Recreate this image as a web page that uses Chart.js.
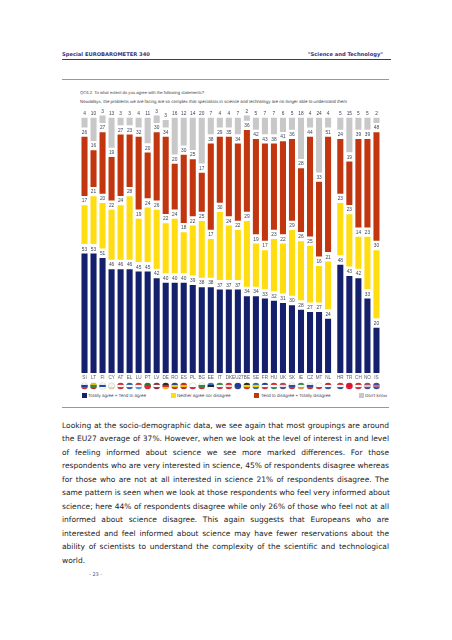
<!DOCTYPE html>
<html>
<head>
<meta charset="utf-8">
<title>Special EUROBAROMETER 340</title>
<script src="https://cdn.jsdelivr.net/npm/chart.js@4"></script>
<style>
  html, body { margin: 0; padding: 0; background: #fff; }
  body { position: relative; width: 452px; height: 640px; overflow: hidden; font-family: "DejaVu Sans", sans-serif; text-rendering: geometricPrecision; }
  .abs { position: absolute; white-space: nowrap; }
  .head { font-size: 5.2px; font-weight: bold; color: #34347c; top: 52px; line-height: 7px; }
  .rule { position: absolute; left: 62px; height: 1px; }
  .q { left: 80px; font-family: "Liberation Sans", sans-serif; font-size: 4.2px; color: #444; line-height: 6px; }
  canvas { position: absolute; top: 108px; }
  .sw { position: absolute; top: 393px; width: 5px; height: 5px; }
  .lg { top: 392px; font-family: "Liberation Sans", sans-serif; font-size: 4.5px; line-height: 7px; color: #445; }
  #body { position: absolute; left: 62px; top: 419px; width: 327px; font-size: 7.5px; line-height: 13.45px; color: #222; }
  #body div { text-align: justify; text-align-last: justify; white-space: nowrap; }
  #body div:last-child { text-align-last: left; }
  .pg { left: 89px; top: 571px; font-size: 5px; line-height: 8px; color: #55558a; }
</style>
</head>
<body>
<div class="abs head" style="left:62px">Special EUROBAROMETER 340</div>
<div class="abs head" style="right:69px">"Science and Technology"</div>
<div class="rule" style="top:59px;width:329px;background:#3a3a6e"></div>
<div class="rule" style="top:79px;width:327px;background:#999"></div>

<div class="abs q" style="top:90px">QC6.2. To what extent do you agree with the following statements?</div>
<div class="abs q" style="top:99px;font-size:4.45px">Nowadays, the problems we are facing are so complex that specialists in science and technology are no longer able to understand them</div>

<canvas id="chartEuropa" style="left:79.5px"></canvas>
<canvas id="chartOtros" style="left:335px"></canvas>

<div class="sw" style="left:82px;background:#14206b"></div>
<div class="abs lg" style="left:88px">Totally agree + Tend to agree</div>
<div class="sw" style="left:171px;background:#ffdd10"></div>
<div class="abs lg" style="left:177px">Neither agree nor disagree</div>
<div class="sw" style="left:254px;background:#c1360e"></div>
<div class="abs lg" style="left:261px">Tend to disagree + Totally disagree</div>
<div class="sw" style="left:359px;background:#c8c8c8"></div>
<div class="abs lg" style="left:365px">Don't know</div>

<div class="rule" style="top:407px;width:327px;background:#999"></div>

<div id="body">
<div>Looking at the socio-demographic data, we see again that most groupings are around</div>
<div>the EU27 average of 37%. However, when we look at the level of interest in and level</div>
<div>of feeling informed about science we see more marked differences. For those</div>
<div>respondents who are very interested in science, 45% of respondents disagree whereas</div>
<div>for those who are not at all interested in science 21% of respondents disagree. The</div>
<div>same pattern is seen when we look at those respondents who feel very informed about</div>
<div>science; here 44% of respondents disagree while only 26% of those who feel not at all</div>
<div>informed about science disagree. This again suggests that Europeans who are</div>
<div>interested and feel informed about science may have fewer reservations about the</div>
<div>ability of scientists to understand the complexity of the scientific and technological</div>
<div>world.</div>
</div>
<div class="abs pg">- 23 -</div>

<script>
const paises = ["SI","LT","FI","CY","AT","EL","LU","PT","LV","DE","RO","ES","PL","BG","EE","IT","DK","EU27","BE","SE","FR","HU","UK","SK","IE","CZ","MT","NL","HR","TR","CH","NO","IS"];
const deAcuerdo = [53,53,51,46,46,46,45,45,42,40,40,40,39,38,38,37,37,37,34,34,33,32,31,30,28,27,27,24,48,43,42,33,20];
const neutral = [17,21,20,22,24,28,19,24,26,22,24,18,22,25,17,30,24,22,29,19,17,23,22,29,26,25,16,21,23,23,14,23,30];
const enDesacuerdo = [26,16,27,19,27,23,32,20,30,34,20,30,25,17,38,29,35,34,36,42,43,38,41,36,28,44,33,51,24,19,39,39,48];
const noSabe = [4,10,3,13,3,3,4,11,3,3,16,12,14,20,7,4,4,7,2,5,7,7,6,5,18,4,24,4,5,15,5,5,2];

// franjas de cada bandera, dentro del circulo
const banderas = [
  ["#fff","#1a3fa0","#d8262c"],["#f5c400","#2e8b3a","#c1272d"],["#fff","#1a4a9c","#fff"],["#f4f4ee","#f4f4ee","#e8d9b0"],
  ["#d8262c","#fff","#d8262c"],["#2a5cb0","#fff","#2a5cb0"],["#d8262c","#fff","#3aa0dc"],["#1e7a34","#d8262c","#d8262c"],
  ["#8c2a30","#fff","#8c2a30"],["#222","#d8262c","#f5c400"],["#1a3fa0","#f5d400","#d8262c"],["#c8201c","#f5c400","#c8201c"],
  ["#fff","#fff","#dc1c3c"],["#fff","#2e8b3a","#d8262c"],["#3a7ac8","#222","#fff"],["#2e8b3a","#fff","#d8262c"],
  ["#d8262c","#f4dcdc","#d8262c"],["#1f3a96","#1f3a96","#1f3a96"],["#222","#f5d400","#d8262c"],["#2a6cb0","#f5d400","#2a6cb0"],
  ["#1f3a96","#fff","#d8262c"],["#d8262c","#fff","#2e8b3a"],["#b04050","#e8e0e8","#3a4a90"],["#fff","#2a4ca0","#d8262c"],
  ["#2e8b3a","#fff","#f08a24"],["#fff","#2a4ca0","#d8262c"],["#fff","#fff","#d8262c"],["#c8202c","#fff","#2a4ca0"],
  ["#d8262c","#fff","#2a4ca0"],["#dc1430","#dc1430","#dc1430"],["#d8262c","#fff","#d8262c"],["#b04050","#c8c8e0","#3a4a90"],["#3a4a9c","#c87080","#3a4a9c"]
];

const azul = "#14206b", amarillo = "#ffdd10", rojo = "#c1360e", gris = "#c8c8c8";
const hueco = 4.44; // espacio para la etiqueta entre tramos
const corte = 28;

const etiquetasYBanderas = {
  id: "etiquetasYBanderas",
  afterDatasetsDraw(chart) {
    const ctx = chart.ctx;
    ctx.save();
    ctx.font = '4.8px "Liberation Sans", sans-serif';
    ctx.fillStyle = "#3c4252";
    ctx.textAlign = "center";
    ctx.textBaseline = "bottom";
    chart.data.datasets.forEach((ds, d) => {
      if (ds.esHueco) return;
      chart.getDatasetMeta(d).data.forEach((bar, i) => {
        ctx.fillText(ds.data[i], bar.x, bar.y - 2);
      });
    });
    // banderas debajo de los codigos de pais
    const yFlag = chart.scales.x.bottom - 5;
    chart.options.plugins.etiquetasYBanderas.franjas.forEach((f, i) => {
      const x = chart.scales.x.getPixelForTick(i);
      ctx.save();
      ctx.beginPath();
      ctx.arc(x, yFlag, 3.3, 0, Math.PI * 2);
      ctx.clip();
      f.forEach((color, k) => {
        ctx.fillStyle = color;
        ctx.fillRect(x - 4, yFlag - 3.3 + k * 2.2, 8, 2.3);
      });
      ctx.restore();
      ctx.beginPath();
      ctx.arc(x, yFlag, 3.3, 0, Math.PI * 2);
      ctx.strokeStyle = "rgba(120,120,130,0.5)";
      ctx.lineWidth = 0.4;
      ctx.stroke();
    });
    ctx.restore();
  }
};

function crearGrafico(id, ancho, desde, hasta) {
  const canvas = document.getElementById(id);
  canvas.width = ancho;
  canvas.height = 283;
  const tramo = (serie) => serie.slice(desde, hasta);
  const espacio = tramo(paises).map(() => hueco);
  const barra = (label, data, color) => ({ label, data, backgroundColor: color, barThickness: 5.4 });
  const vacio = () => ({ data: espacio, backgroundColor: "transparent", barThickness: 5.4, esHueco: true });

  return new Chart(canvas, {
    type: "bar",
    data: {
      labels: tramo(paises),
      datasets: [
        barra("Totally agree + Tend to agree", tramo(deAcuerdo), azul),
        vacio(),
        barra("Neither agree nor disagree", tramo(neutral), amarillo),
        vacio(),
        barra("Tend to disagree + Totally disagree", tramo(enDesacuerdo), rojo),
        vacio(),
        barra("Don't know", tramo(noSabe), gris),
      ],
    },
    options: {
      responsive: false,
      animation: false,
      layout: { padding: 0 },
      plugins: {
        legend: { display: false },
        tooltip: { enabled: false },
        etiquetasYBanderas: { franjas: tramo(banderas) },
      },
      scales: {
        x: {
          stacked: true,
          grid: { display: false, drawTicks: false },
          border: { display: false },
          ticks: {
            autoSkip: false,
            maxRotation: 0,
            padding: 2,
            color: "#555b6a",
            font: { family: '"Liberation Sans", sans-serif', size: 4.6 },
          },
          afterFit(scale) { scale.height = 18; },
        },
        y: { stacked: true, display: false, min: 0, max: 117.8 },
      },
    },
    plugins: [etiquetasYBanderas],
  });
}

crearGrafico("chartEuropa", 253, 0, corte);
crearGrafico("chartOtros", 46, corte, paises.length);
</script>
</body>
</html>
